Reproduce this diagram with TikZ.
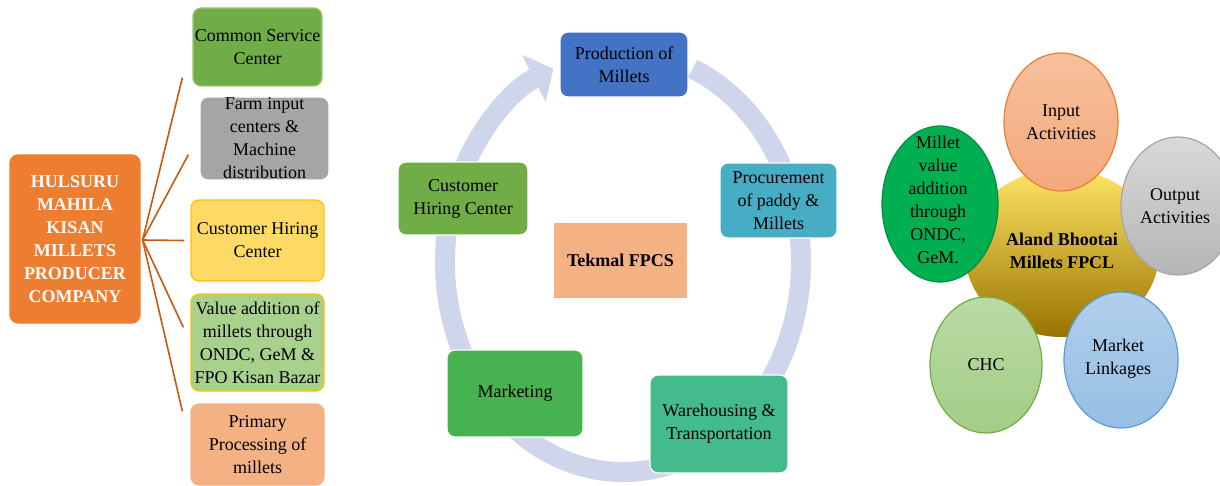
\documentclass[tikz,border=0pt]{standalone}
\usepackage{fontspec}
\setmainfont{Liberation Serif}
\usetikzlibrary{
    arrows.meta, % for the head of the cycle arrow
    calc, % for the free ends of the branches
    shapes.geometric % for the ellipses on the right
}

\definecolor{hulsuru}{HTML}{ED7D31}
\definecolor{branchbrown}{HTML}{C55A11}
\definecolor{csc}{HTML}{70AD47}
\definecolor{farmgray}{HTML}{A5A5A5}
\definecolor{hireyellow}{HTML}{FFD966}
\definecolor{gold}{HTML}{FFC000}
\definecolor{valuegreen}{HTML}{A9D18E}
\definecolor{salmon}{HTML}{F4B183}
\definecolor{prodblue}{HTML}{4472C4}
\definecolor{proctea}{HTML}{46ADC4}
\definecolor{warejade}{HTML}{44BB8C}
\definecolor{markgreen}{HTML}{47B350}
\definecolor{ringblue}{HTML}{CFD5EA}
\definecolor{outgray}{HTML}{C9C9C9}
\definecolor{marketblue}{HTML}{9DC3E6}
\definecolor{marketedge}{HTML}{5B9BD5}
\definecolor{milletgreen}{HTML}{00B050}

\begin{document}
\begin{tikzpicture}[
    x=0.5pt,y=0.5pt,
    every node/.style = {font=\fontsize{9}{11.5}\selectfont,align=center,inner sep=0pt},
    box/.style        = {rectangle,rounded corners=4pt,line width=0.6pt,draw=white},
    branch/.style     = {draw=branchbrown,line width=0.8pt},
    ring/.style       = {draw=ringblue,line width=10pt,-{Triangle[width=26pt,length=11pt]}},
    blob/.style       = {ellipse,line width=0.6pt}
]

\useasboundingbox (0,0) rectangle (1220,-486);

% Hulsuru company and its branches (left)

    \node [box,fill=hulsuru,draw=hulsuru,minimum width=65pt,minimum height=84pt,
           text=white,font=\fontsize{9}{11.5}\selectfont\bfseries] (main) at (75,-239)
          {HULSURU\\MAHILA\\KISAN\\MILLETS\\PRODUCER\\COMPANY};

    \node [box,fill=csc,draw=csc!70!white,minimum width=64.5pt,minimum height=39pt]       (b1) at (257.5,-47)    {Common Service\\Center};
    \node [box,fill=farmgray,minimum width=64.5pt,minimum height=41.5pt]                  (b2) at (264.5,-138.5) {Farm input\\centers \&\\Machine\\distribution};
    \node [box,fill=hireyellow,draw=gold,minimum width=66.5pt,minimum height=40.5pt]      (b3) at (257.5,-240.5) {Customer Hiring\\Center};
    \node [box,fill=valuegreen,draw=gold,minimum width=66.5pt,minimum height=48.5pt]      (b4) at (257.5,-342.5) {Value addition of\\millets through\\ONDC, GeM \&\\FPO Kisan Bazar};
    \node [box,fill=salmon,draw=hulsuru!60,minimum width=66.5pt,minimum height=40.5pt]    (b5) at (257.5,-444.5) {Primary\\Processing of\\millets};

    \coordinate (hub) at ($(main.east)+(2,-1)$);
    \coordinate (e1)  at ($(b1.south west)+(-10,9)$);
    \coordinate (e2)  at ($(b2.south west)+(-11,26)$);
    \coordinate (e3)  at ($(b3.west)+(-6,0)$);
    \coordinate (e4)  at ($(b4.north west)+(-7,-34)$);
    \coordinate (e5)  at ($(b5.north west)+(-8,-8)$);

    \foreach \e in {e1,e2,e3,e4,e5}
        \draw [branch] (hub) -- (\e);

% Tekmal cycle (middle)

    \coordinate (cyc) at (623,-262);
    \draw [ring] ([shift={(67:89pt and 105pt)}]cyc)
        arc [start angle=67,end angle=-247,x radius=89pt,y radius=105pt];

    \node [box,fill=prodblue,minimum width=64pt,minimum height=32.5pt]    (prod) at (624,-64.5)   {Production of\\Millets};
    \node [box,fill=proctea,minimum width=58.5pt,minimum height=37.5pt]   (proc) at (778.5,-200.5) {Procurement\\of paddy \&\\Millets};
    \node [box,fill=warejade,minimum width=69pt,minimum height=49pt]      (ware) at (719,-424)    {Warehousing \&\\Transportation};
    \node [box,fill=markgreen,minimum width=68pt,minimum height=43.5pt]   (mark) at (515,-393.5)  {Marketing};
    \node [box,fill=csc,minimum width=65pt,minimum height=36.5pt]         (hire) at (463,-198.5)  {Customer\\Hiring Center};
    \node [rectangle,fill=salmon,minimum width=66.5pt,minimum height=37.5pt,
           font=\fontsize{9}{11.5}\selectfont\bfseries]                    (tek)  at (620.5,-260.5) {Tekmal FPCS};

% Aland Bhootai flower (right)

    \node [blob,top color=gold!70!yellow!60!white,middle color=gold,bottom color=gold!60!black,
           minimum width=97pt,minimum height=84pt] (aland) at (1062,-253) {};
    \node [font=\fontsize{9}{11.5}\selectfont\bfseries] (alandtxt) at (1062,-251) {Aland Bhootai\\Millets FPCL};

    \node [blob,top color=salmon!80!white,bottom color=salmon!95!red,draw=hulsuru,
           minimum width=57pt,minimum height=69pt] (inp)  at (1061,-122) {};
    \node [blob,top color=outgray!70!white,bottom color=outgray!90!black,draw=farmgray,
           minimum width=57pt,minimum height=69pt] (outp) at (1178,-206) {};
    \node [blob,top color=marketblue!80!white,bottom color=marketblue!90!marketedge,draw=marketedge,
           minimum width=57pt,minimum height=68pt] (mkt)  at (1121,-360) {};
    \node [blob,top color=valuegreen!80!white,bottom color=valuegreen!90!csc,draw=csc,
           minimum width=56pt,minimum height=68pt] (chc)  at (986,-365)  {};
    \node [blob,fill=milletgreen,draw=milletgreen!80!black,
           minimum width=58pt,minimum height=78pt] (mval) at (940,-204)  {};

    \node (inptxt)  at (inp)  {Input\\Activities};
    \node (outptxt) at ($(outp)+(-3,0)$) {Output\\Activities};
    \node (mkttxt)  at ($(mkt)+(-3,1)$)  {Market\\Linkages};
    \node (chctxt)  at (chc)  {CHC};
    \node (mvaltxt) at ($(mval)+(-2,4)$) {Millet\\value\\addition\\through\\ONDC,\\GeM.};

\end{tikzpicture}
\end{document}
